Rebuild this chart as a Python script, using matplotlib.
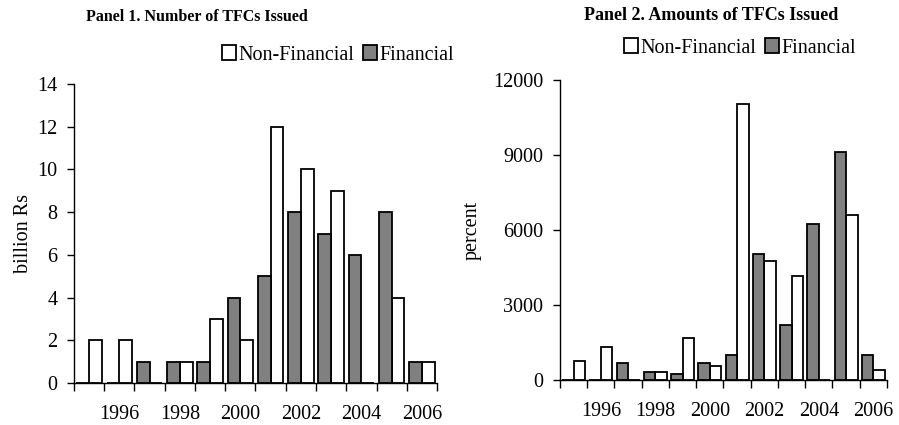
import numpy as np
import matplotlib
matplotlib.use('Agg')
import matplotlib.pyplot as plt

plt.rcParams['font.family'] = ['Liberation Serif', 'DejaVu Serif']

# Dados (anos 1995-2006)
anos = list(range(1995, 2007))
rotulos = ['1996', '1998', '2000', '2002', '2004', '2006']

# Painel 1: número de TFCs emitidos
num_nao_fin = [2, 2, 0, 1, 3, 2, 12, 10, 9, 0, 4, 1]
num_fin = [0, 0, 1, 1, 1, 4, 5, 8, 7, 6, 8, 1]

# Painel 2: montante de TFCs emitidos
mont_nao_fin = [760, 1300, 0, 300, 1670, 540, 11050, 4740, 4140, 0, 6610, 390]
mont_fin = [0, 0, 680, 300, 240, 680, 990, 5050, 2190, 6250, 9110, 990]

fig = plt.figure(figsize=(8.99, 4.25), dpi=100)
ax1 = fig.add_axes([0.0823, 0.0988, 0.4038, 0.7035])
ax2 = fig.add_axes([0.6229, 0.1059, 0.3637, 0.7059])

cinza = '#808080'
larg = 0.42
fs = 14.5


def painel(ax, nao_fin, fin, ymax, passo, ylabel, lpad, titulo, tfs, tx, ty, leg_pos):
    x = np.arange(len(anos))
    b1 = ax.bar(x + larg / 2, nao_fin, larg, color='white', edgecolor='black',
                linewidth=1.3, label='Non-Financial')
    b2 = ax.bar(x - larg / 2, fin, larg, color=cinza, edgecolor='black',
                linewidth=1.3, label='Financial')
    ax.set_xlim(-0.5, len(anos) - 0.5)
    ax.set_ylim(0, ymax)
    ax.set_yticks(np.arange(0, ymax + 1, passo))
    ax.set_xticks(np.arange(-0.5, len(anos), 1))
    ax.set_xticklabels([])
    ax.set_xticks([anos.index(int(r)) for r in rotulos], minor=True)
    ax.set_xticklabels(rotulos, minor=True)
    ax.tick_params(axis='x', which='major', length=6, width=1, direction='out')
    ax.tick_params(axis='x', which='minor', length=0, pad=16, labelsize=fs)
    ax.tick_params(axis='y', length=5, width=1, pad=7, labelsize=fs)
    for s in ['top', 'right']:
        ax.spines[s].set_visible(False)
    for s in ['left', 'bottom']:
        ax.spines[s].set_linewidth(1)
    ax.set_ylabel(ylabel, fontsize=fs, labelpad=lpad)
    fig.text(tx, ty, titulo, fontsize=tfs, fontweight='bold', ha='center', va='center')
    fig.legend([b1, b2], ['Non-Financial', 'Financial'], loc='center',
               bbox_to_anchor=leg_pos, ncol=2, frameon=False, fontsize=fs,
               handlelength=0.7, handleheight=0.7, handletextpad=0.15,
               columnspacing=0.4)


painel(ax1, num_nao_fin, num_fin, 14, 2, 'billion Rs', 3,
       'Panel 1. Number of TFCs Issued', 11.5, 197 / 899, 1 - 17 / 425,
       (338 / 899, 1 - 55 / 425))
painel(ax2, mont_nao_fin, mont_fin, 12000, 3000, 'percent', 8,
       'Panel 2. Amounts of TFCs Issued', 13, 711 / 899, 1 - 15 / 425,
       (740 / 899, 1 - 48 / 425))

plt.savefig('out.png', dpi=100)
